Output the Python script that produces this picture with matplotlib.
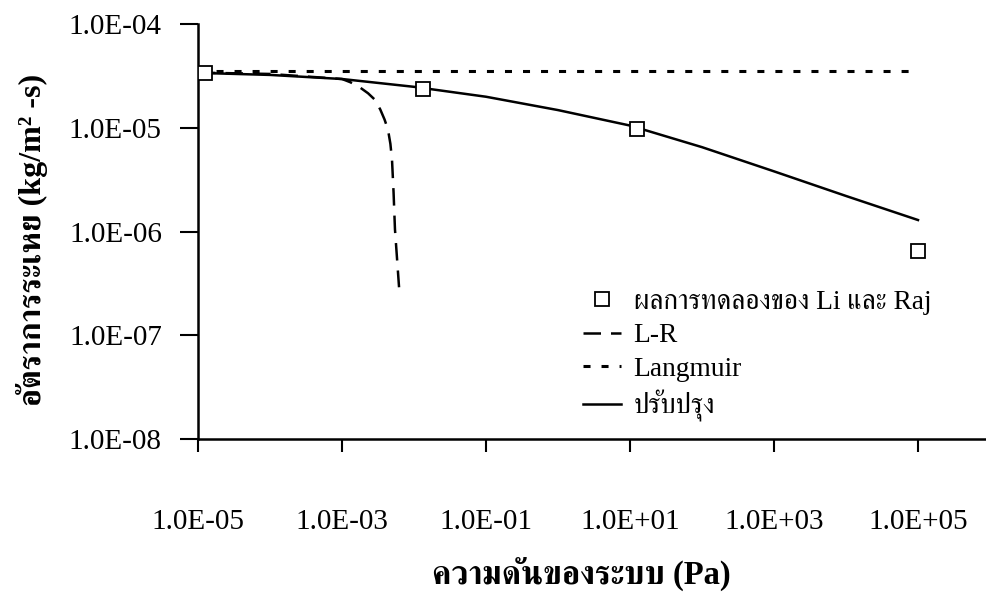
import matplotlib
matplotlib.use("Agg")
import matplotlib.pyplot as plt

plt.rcParams["font.family"] = ["Liberation Serif", "FreeSerif"]

# evaporation rate vs. system pressure
exp_p = [1.25e-5, 1.33e-2, 12.5, 1.0e5]
exp_rate = [3.4e-5, 2.37e-5, 9.8e-6, 6.5e-7]

lr_p = [1e-5, 1e-4, 1e-3, 1.3e-3, 1.7e-3, 2.3e-3, 2.87e-3, 3.4e-3, 3.9e-3,
        4.35e-3, 4.7e-3, 4.95e-3, 5.2e-3, 5.44e-3, 6.2e-3]
lr_rate = [3.4e-5, 3.3e-5, 2.95e-5, 2.75e-5, 2.5e-5, 2.15e-5, 1.86e-5, 1.5e-5, 1.2e-5,
           9.6e-6, 7.0e-6, 4.9e-6, 2.4e-6, 1.05e-6, 2.9e-7]

lang_p = [1e-5, 1e5]
lang_rate = [3.5e-5, 3.5e-5]

mod_p = [1e-5, 1e-4, 1e-3, 1e-2, 1e-1, 1, 10, 100, 1e3, 1e4, 1e5]
mod_rate = [3.38e-5, 3.23e-5, 2.95e-5, 2.48e-5, 1.99e-5, 1.48e-5, 1.05e-5,
            6.5e-6, 3.8e-6, 2.2e-6, 1.29e-6]

x_ticks = [1e-5, 1e-3, 1e-1, 1e1, 1e3, 1e5]
x_labels = ["1.0E-05", "1.0E-03", "1.0E-01", "1.0E+01", "1.0E+03", "1.0E+05"]
y_ticks = [1e-8, 1e-7, 1e-6, 1e-5, 1e-4]
y_labels = ["1.0E-08", "1.0E-07", "1.0E-06", "1.0E-05", "1.0E-04"]

W, H = 987, 592
fig = plt.figure(figsize=(W / 100, H / 100), dpi=100)
ax = fig.add_axes([198 / W, 1 - 439 / H, (990 - 198) / W, (439 - 24) / H])

ax.plot(exp_p, exp_rate, linestyle="none", marker="s", markersize=10,
        markerfacecolor="white", markeredgecolor="black", markeredgewidth=1.3,
        label="ผลการทดลองของ Li และ Raj", zorder=4)
ax.plot(lr_p, lr_rate, color="black", lw=1.8, dashes=(7, 4), label="L-R")
ax.plot(lang_p, lang_rate, color="black", lw=2.2, dashes=(2.3, 3.6), label="Langmuir")
ax.plot(mod_p, mod_rate, color="black", lw=1.8, label="ปรับปรุง")

ax.set_xscale("log")
ax.set_yscale("log")
ax.set_xlim(1e-5, 1e6)
ax.set_ylim(1e-8, 1e-4)

ax.set_xticks(x_ticks)
ax.set_xticklabels(x_labels)
ax.set_yticks(y_ticks)
ax.set_yticklabels(y_labels)
ax.minorticks_off()

for side in ["top", "right"]:
    ax.spines[side].set_visible(False)
for side in ["left", "bottom"]:
    ax.spines[side].set_linewidth(1.8)

ax.tick_params(axis="x", direction="out", length=9.5, width=1.5, pad=41, labelsize=21)
ax.tick_params(axis="y", direction="out", length=13, width=1.5, pad=13, labelsize=21)

fig.text(581 / W, 1 - 575 / H, "ความดันของระบบ (Pa)", ha="center", va="center",
         fontsize=23.5, fontweight="bold")
fig.text(32 / W, 1 - 240 / H, "อัตราการระเหย (kg/m² -s)", ha="center", va="center",
         rotation=90, fontsize=23, fontweight="bold")

ax.legend(loc="center left", bbox_to_anchor=(569 / W, 1 - 356 / H),
          bbox_transform=fig.transFigure, frameon=False, fontsize=19.8,
          borderpad=0, handlelength=1.4, handletextpad=0.45, labelspacing=0.3)

fig.savefig("out.png", dpi=100)
